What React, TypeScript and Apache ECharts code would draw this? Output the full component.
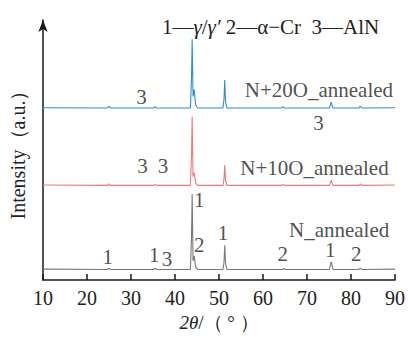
import React, { useEffect, useRef } from "react";
import * as echarts from "echarts";

// 2θ positions and intensities (relative to each pattern's baseline, a.u.)
const thetaN20O = [10, 24.7, 25.0, 25.3, 35.2, 35.5, 35.8, 43.5, 43.75, 43.9, 44.1, 44.35, 44.7, 45.2, 50.9, 51.15, 51.3, 51.5, 51.8, 64.2, 64.5, 64.8, 75.1, 75.5, 75.9, 81.8, 82.1, 82.4, 90];
const intN20O = [0.3, 0, 2, 0, 0, 1.5, 0, 0, 30, 71, 12, 19, 3, 0, 0, 10, 29, 6, 0, 0, 1.5, 0, 0, 6, 0, 0, 2, 0, 0.3];

const thetaN10O = [10, 24.7, 25.0, 25.3, 35.2, 35.5, 35.8, 43.5, 43.75, 43.9, 44.1, 44.35, 44.7, 45.2, 50.9, 51.15, 51.3, 51.5, 51.8, 64.2, 64.5, 64.8, 75.1, 75.5, 75.9, 81.8, 82.1, 82.4, 90];
const intN10O = [0.3, 0, 1.5, 0, 0, 1, 0, 0, 30, 71, 9, 13, 2, 0, 0, 7, 21, 5, 0, 0, 1, 0, 0, 5, 0, 0, 1.5, 0, 0.3];

const thetaN = [10, 24.7, 25.0, 25.3, 35.2, 35.5, 35.8, 43.5, 43.75, 43.9, 44.1, 44.35, 44.7, 45.2, 50.9, 51.15, 51.3, 51.5, 51.8, 64.5, 64.8, 65.1, 75.1, 75.5, 75.9, 81.8, 82.1, 82.4, 90];
const intN = [0.3, 0, 1.5, 0, 0, 1.5, 0, 0, 32, 78, 9, 14, 2, 0, 0, 8, 25, 6, 0, 0, 1, 0, 0, 8, 0, 0, 1.5, 0, 0.3];

// vertical offsets of the stacked patterns
const offsetN20O = 178;
const offsetN10O = 98;
const offsetN = 11;

const xTicks = [10, 20, 30, 40, 50, 60, 70, 80, 90];

// phase / sample annotations: text, 2θ, intensity
const annoText = ["3", "3", "3", "3", "1", "2", "1", "1", "1", "3", "2", "1", "2", "N+20O_annealed", "N+10O_annealed", "N_annealed"];
const annoX = [32.4, 72.6, 32.6, 37.3, 45.5, 45.5, 50.9, 24.7, 35.3, 38.2, 64.5, 75.3, 81.2, 72.7, 71.7, 77.3];
const annoY = [189, 162, 118, 118, 83, 36, 49, 24, 26, 22, 27, 31, 27, 197, 116, 52];

const FONT = "'Liberation Serif', 'Times New Roman', serif";

export default function App() {
  const ref = useRef<HTMLDivElement>(null);
  useEffect(() => {
    document.body.style.margin = "0";
    if (!ref.current) return;
    const chart = echarts.init(ref.current, null, { renderer: "svg" });
    const mk = (th: number[], v: number[], off: number) => th.map((t, i) => [t, v[i] + off]);
    chart.setOption({
      animation: false,
      grid: { left: 43, right: 11, top: 20, bottom: 48 },
      xAxis: {
        type: "value",
        min: xTicks[0],
        max: xTicks[xTicks.length - 1],
        interval: 10,
        axisLine: { show: true, lineStyle: { color: "#1a1a1a", width: 1.5 } },
        axisTick: { show: true, inside: true, length: 6, lineStyle: { color: "#1a1a1a", width: 1.5 } },
        axisLabel: { fontFamily: FONT, fontSize: 20, color: "#222", margin: 8 },
        splitLine: { show: false },
        name: "{i|2θ}/（ ° ）",
        nameLocation: "middle",
        nameGap: 27,
        nameTextStyle: {
          fontFamily: FONT,
          fontSize: 19,
          color: "#222",
          rich: { i: { fontFamily: FONT, fontSize: 19, fontStyle: "italic", color: "#222" } },
        },
      },
      yAxis: {
        type: "value",
        min: 0,
        max: 269,
        axisLine: {
          show: true,
          symbol: ["none", "arrow"],
          symbolSize: [7, 12],
          lineStyle: { color: "#1a1a1a", width: 1.5 },
        },
        axisTick: { show: false },
        axisLabel: { show: false },
        splitLine: { show: false },
        name: "Intensity（a.u.）",
        nameLocation: "middle",
        nameGap: 15,
        nameTextStyle: { fontFamily: FONT, fontSize: 20, color: "#222" },
      },
      graphic: [
        {
          type: "text",
          left: 162,
          top: 16,
          style: {
            text: "1—{i|γ}/{i|γ′} 2—α−Cr  3—AlN",
            fontFamily: FONT,
            fontSize: 21,
            fill: "#222",
            rich: { i: { fontFamily: FONT, fontSize: 21, fontStyle: "italic", fill: "#222" } },
          },
        },
      ],
      series: [
        {
          type: "line",
          data: mk(thetaN20O, intN20O, offsetN20O),
          showSymbol: false,
          lineStyle: { color: "#2e8fd2", width: 1.1 },
          silent: true,
        },
        {
          type: "line",
          data: mk(thetaN10O, intN10O, offsetN10O),
          showSymbol: false,
          lineStyle: { color: "#f07878", width: 1.1 },
          silent: true,
        },
        {
          type: "line",
          data: mk(thetaN, intN, offsetN),
          showSymbol: false,
          lineStyle: { color: "#7a7a7a", width: 1.1 },
          silent: true,
        },
        {
          type: "scatter",
          symbolSize: 0,
          silent: true,
          data: annoText.map((t, i) => ({ name: t, value: [annoX[i], annoY[i]] })),
          label: {
            show: true,
            position: "inside",
            formatter: (p: any) => p.name,
            fontFamily: FONT,
            fontSize: 21,
            color: "#222",
          },
        },
      ],
    });
    return () => chart.dispose();
  }, []);
  return <div ref={ref} style={{ width: 408, height: 337 }} />;
}
